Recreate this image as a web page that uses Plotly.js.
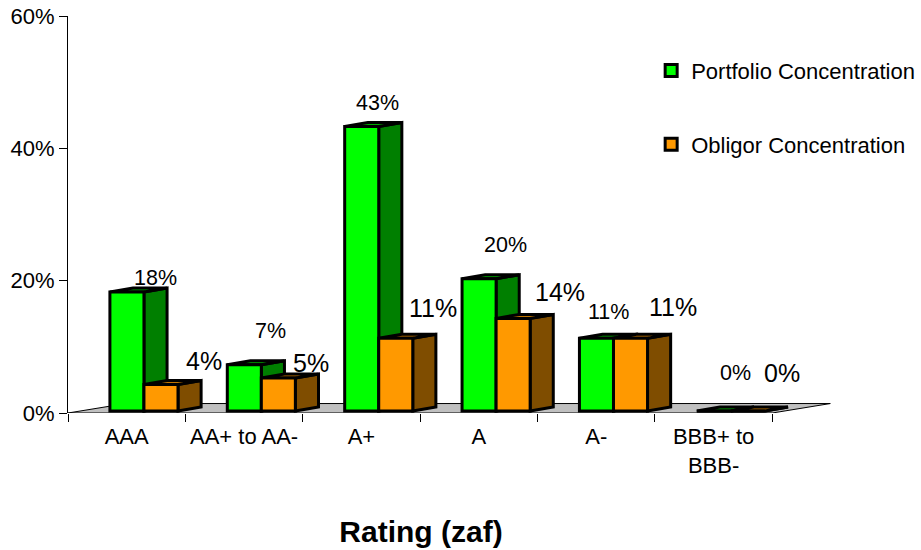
<!DOCTYPE html>
<html>
<head>
<meta charset="utf-8">
<script src="https://cdn.plot.ly/plotly-3.0.1.min.js"></script>
<style>html,body{margin:0;padding:0;background:#fff}</style>
</head>
<body>
<div id="chart" style="width:921px;height:550px"></div>
<script>
// Ratings and concentration percentages
const ratings = ['AAA', 'AA+ to AA-', 'A+', 'A', 'A-', 'BBB+ to<br>BBB-'];
const portfolio = [18, 7, 43, 20, 11, 0];
const obligor = [4, 5, 11, 14, 11, 0];

// Pixel nudges of the value labels relative to their category and value
const portfolioLabelShiftX = [29, 26, 16, 27, 12, 22];
const portfolioLabelShiftY = [16, 36, 25, 36, 28, 40];
const obligorLabelShiftX = [77, 67, 72, 81, 77, 68];
const obligorLabelShiftY = [26, 17, 32, 28, 33, 40];

// Bar geometry in axis units: width, offsets and the oblique depth projection
const barWidth = 0.29;
const portfolioOffset = -0.143;
const obligorOffset = 0.147;
const depthX = 0.197;
const depthY = 0.6;
const floorDepthX = 0.494;
const floorDepthY = 1.43;
const frontLift = 0.3;
const outline = {color: '#000', width: 3};
const fontFamily = '"Liberation Sans", Arial, sans-serif';

function polygon(points, fill, line) {
  const path = points.map((p, i) => (i ? 'L' : 'M') + p[0] + ',' + p[1]).join(' ') + ' Z';
  return {type: 'path', xref: 'x', yref: 'y', layer: 'below', path, fillcolor: fill, line};
}

// Side and top faces of one bar, projected back from its front face
function faces(i, offset, value, sideColor, topColor) {
  const x0 = i + offset, x1 = x0 + barWidth, top = value + frontLift;
  return [
    polygon([[x1, frontLift], [x1 + depthX, frontLift + depthY], [x1 + depthX, top + depthY], [x1, top]], sideColor, outline),
    polygon([[x0, top], [x0 + depthX, top + depthY], [x1 + depthX, top + depthY], [x1, top]], topColor, outline)
  ];
}

const last = ratings.length - 0.5;
const shapes = [
  polygon([[-0.5, 0], [-0.5 + floorDepthX, floorDepthY], [last + floorDepthX, floorDepthY], [last, 0]],
          '#c0c0c0', {color: '#000', width: 1})
];
ratings.forEach((_, i) => {
  shapes.push(...faces(i, portfolioOffset, portfolio[i], '#007f00', '#00a800'));
  shapes.push(...faces(i, obligorOffset, obligor[i], '#7f4d00', '#bf7300'));
});

function valueLabels(values, shiftX, shiftY, size) {
  return values.map((v, i) => ({
    x: i, y: v, xref: 'x', yref: 'y', text: v + '%', showarrow: false,
    xanchor: 'center', yanchor: 'middle', xshift: shiftX[i], yshift: shiftY[i],
    font: {family: fontFamily, size, color: '#000'}
  }));
}

function barTrace(name, values, offset, color) {
  return {
    type: 'bar', name, legendgroup: name, x: ratings, y: values,
    base: values.map(() => frontLift), width: barWidth, offset,
    marker: {color, line: outline}
  };
}

const data = [
  barTrace('Portfolio Concentration', portfolio, portfolioOffset, '#00ff00'),
  barTrace('Obligor Concentration', obligor, obligorOffset, '#ff9900')
];

const layout = {
  width: 921, height: 550,
  margin: {l: 68, r: 90.33, t: 16, b: 137, pad: 0, autoexpand: false},
  paper_bgcolor: '#fff', plot_bgcolor: 'rgba(0,0,0,0)',
  font: {family: fontFamily, color: '#000', size: 22},
  barmode: 'overlay',
  title: {
    text: '<b>Rating (zaf)</b>', x: 421 / 921, xref: 'container', xanchor: 'center',
    y: 1 - 531 / 550, yref: 'container', yanchor: 'middle',
    font: {family: fontFamily, size: 30, color: '#000'}
  },
  xaxis: {
    type: 'category', categoryorder: 'array', categoryarray: ratings,
    range: [-0.5, 6], tickson: 'boundaries', ticks: 'outside', ticklen: 8, tickwidth: 1,
    tickcolor: '#000', showgrid: false, zeroline: false, showline: false, ticklabelstandoff: 8,
    tickangle: 0, tickfont: {family: fontFamily, size: 22, color: '#000'}, automargin: false
  },
  yaxis: {
    range: [0, 60], tick0: 0, dtick: 20, ticksuffix: '%', ticks: 'outside', ticklen: 8,
    tickwidth: 1, tickcolor: '#000', showgrid: false, zeroline: false, showline: true,
    linecolor: '#000', linewidth: 1, tickfont: {family: fontFamily, size: 22, color: '#000'},
    automargin: false
  },
  legend: {
    x: 0.7643, y: 0.915, xanchor: 'left', yanchor: 'top', traceorder: 'grouped', tracegroupgap: 42,
    bgcolor: 'rgba(0,0,0,0)', font: {family: fontFamily, size: 22, color: '#000'}
  },
  showlegend: true,
  shapes,
  annotations: [
    ...valueLabels(portfolio, portfolioLabelShiftX, portfolioLabelShiftY, 21.5),
    ...valueLabels(obligor, obligorLabelShiftX, obligorLabelShiftY, 25)
  ]
};

Plotly.newPlot('chart', data, layout, {displayModeBar: false, staticPlot: true});
</script>
</body>
</html>
